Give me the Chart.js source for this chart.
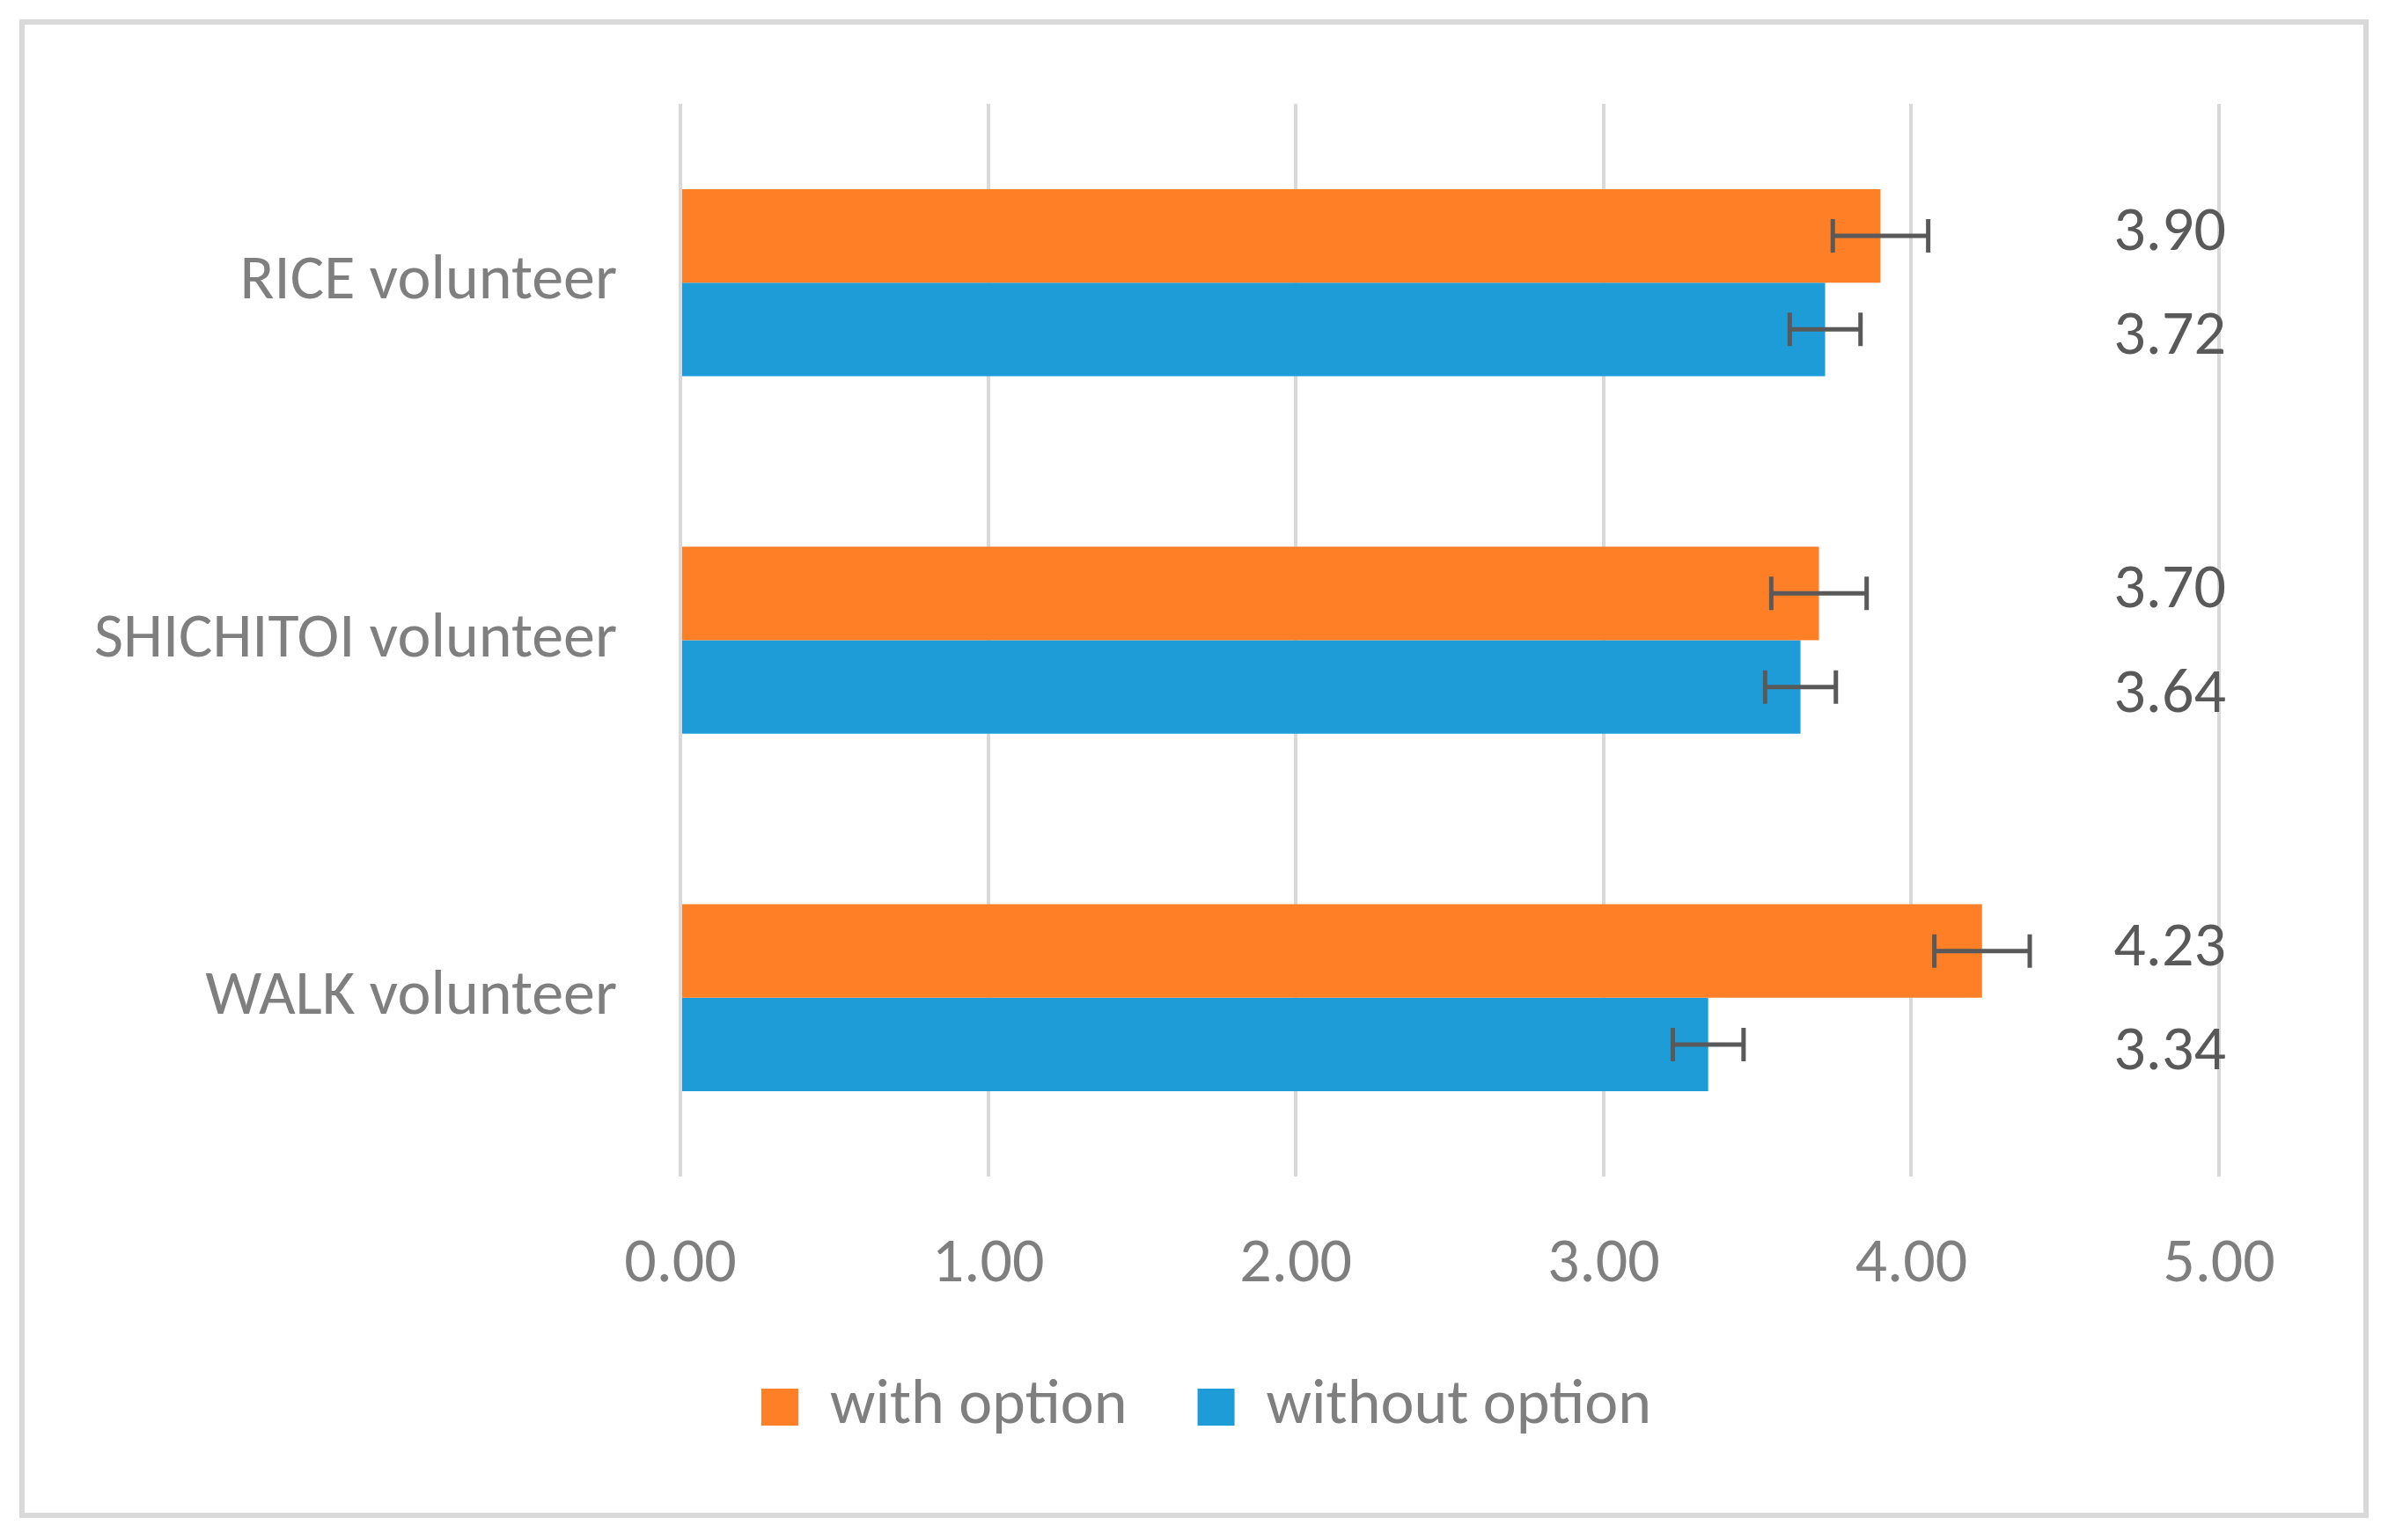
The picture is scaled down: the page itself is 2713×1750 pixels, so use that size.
<!DOCTYPE html>
<html>
<head>
<meta charset="utf-8">
<script src="https://cdn.jsdelivr.net/npm/chart.js@4"></script>
<style>
  html, body { margin: 0; padding: 0; background: #fff; }
  canvas { display: block; }
</style>
</head>
<body>
<canvas id="chart" width="2713" height="1750"></canvas>
<script>
const categories = ["RICE volunteer", "SHICHITOI volunteer", "WALK volunteer"];
const withOption = [3.90, 3.70, 4.23];
const withoutOption = [3.72, 3.64, 3.34];
const withOptionErr = [0.155, 0.155, 0.155];
const withoutOptionErr = [0.115, 0.115, 0.115];
const xTicks = [0, 1, 2, 3, 4, 5];
const labelX = 4.84; // where the value labels sit on the x axis

const FONT = "Carlito, Lato, 'Open Sans', sans-serif";
const errors = [withOptionErr, withoutOptionErr];

const frame = {
  id: "frame",
  beforeDraw(chart) {
    const ctx = chart.ctx;
    ctx.save();
    ctx.fillStyle = "#fff";
    ctx.fillRect(0, 0, chart.width, chart.height);
    ctx.strokeStyle = "#d9d9d9";
    ctx.lineWidth = 6;
    ctx.strokeRect(25, 25, 2663, 1697);
    ctx.restore();
  },
  // legend is centred on the whole frame, not on the plot
  afterLayout(chart) {
    const lg = chart.legend;
    const shift = 110;
    lg.left += shift;
    lg.right += shift;
  }
};

const errorBars = {
  id: "errorBars",
  afterDatasetsDraw(chart) {
    const ctx = chart.ctx;
    const x = chart.scales.x;
    ctx.save();
    ctx.strokeStyle = "#595959";
    ctx.lineWidth = 5;
    chart.data.datasets.forEach((ds, i) => {
      chart.getDatasetMeta(i).data.forEach((bar, j) => {
        const lo = x.getPixelForValue(ds.data[j] - errors[i][j]);
        const hi = x.getPixelForValue(ds.data[j] + errors[i][j]);
        const y = bar.y;
        ctx.beginPath();
        ctx.moveTo(lo, y); ctx.lineTo(hi, y);
        ctx.moveTo(lo, y - 19); ctx.lineTo(lo, y + 19);
        ctx.moveTo(hi, y - 19); ctx.lineTo(hi, y + 19);
        ctx.stroke();
      });
    });
    // value labels on the right
    ctx.fillStyle = "#595959";
    ctx.font = "72px " + FONT;
    ctx.textAlign = "center";
    ctx.textBaseline = "middle";
    const lx = x.getPixelForValue(labelX);
    chart.data.datasets.forEach((ds, i) => {
      chart.getDatasetMeta(i).data.forEach((bar, j) => {
        ctx.fillText(ds.data[j].toFixed(2), lx, bar.y + (i === 0 ? -2 : 10));
      });
    });
    ctx.restore();
  }
};

new Chart(document.getElementById("chart"), {
  type: "bar",
  data: {
    labels: categories,
    datasets: [
      { label: "with option", data: withOption, backgroundColor: "#ff7f27" },
      { label: "without option", data: withoutOption, backgroundColor: "#1e9cd8" }
    ]
  },
  options: {
    indexAxis: "y",
    responsive: false,
    animation: false,
    devicePixelRatio: 1,
    categoryPercentage: 0.523,
    barPercentage: 1,
    layout: { padding: { top: 118, right: 192, bottom: 105, left: 0 } },
    plugins: {
      tooltip: { enabled: false },
      legend: {
        position: "bottom",
        labels: {
          boxWidth: 42,
          boxHeight: 42,
          padding: 80,
          color: "#7f7f7f",
          font: { family: FONT, size: 72 }
        }
      }
    },
    scales: {
      x: {
        min: 0,
        max: 5,
        afterBuildTicks: s => { s.ticks = xTicks.map(v => ({ value: v })); },
        afterFit: s => { s.height = 146; },
        grid: { color: "#d9d9d9", lineWidth: 4, drawTicks: false },
        border: { display: false },
        ticks: {
          padding: 58,
          color: "#7f7f7f",
          font: { family: FONT, size: 72 },
          callback: v => Number(v).toFixed(2)
        }
      },
      y: {
        afterFit: s => { s.width = 773; },
        grid: { display: false },
        border: { display: false },
        ticks: {
          padding: 64,
          color: "#7f7f7f",
          font: { family: FONT, size: 72 }
        }
      }
    }
  },
  plugins: [frame, errorBars]
});
</script>
</body>
</html>
